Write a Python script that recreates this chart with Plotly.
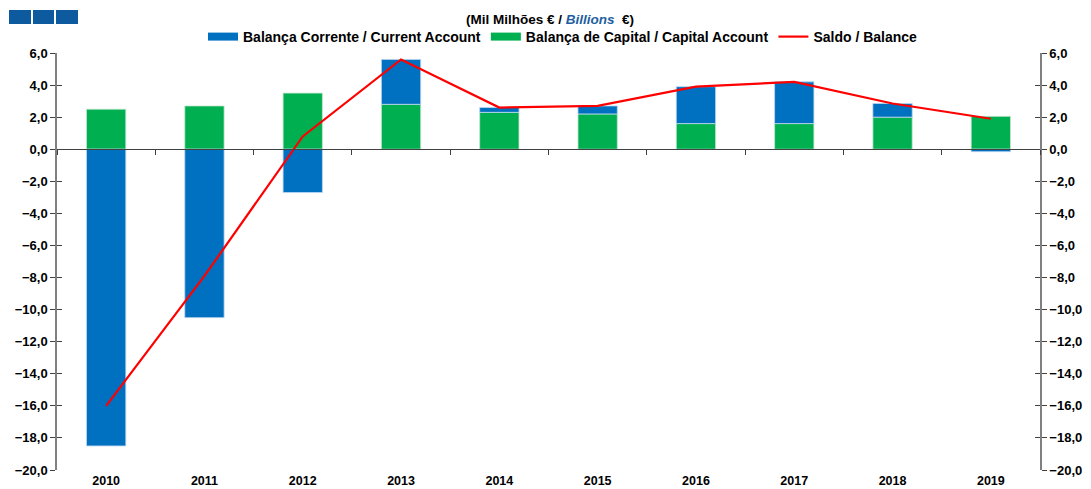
import plotly.graph_objects as go

years = ["2010", "2011", "2012", "2013", "2014", "2015", "2016", "2017", "2018", "2019"]
current_account = [-18.5, -10.5, -2.7, 2.8, 0.3, 0.5, 2.3, 2.6, 0.85, -0.15]
capital_account = [2.5, 2.7, 3.5, 2.8, 2.3, 2.2, 1.6, 1.6, 2.0, 2.05]
balance = [-16.0, -7.9, 0.8, 5.6, 2.6, 2.7, 3.9, 4.2, 2.85, 1.9]
y_ticks = [6, 4, 2, 0, -2, -4, -6, -8, -10, -12, -14, -16, -18, -20]

FONT = "Liberation Sans, Arial, sans-serif"
BLUE = "#0070C0"
GREEN = "#00B050"
RED = "#FF0000"
H = 489

fig = go.Figure()
fig.add_trace(go.Bar(
    x=years, y=capital_account, name="Balança de Capital / Capital Account",
    marker=dict(color=GREEN, line=dict(color="rgba(200,230,210,0.8)", width=1)),
    width=0.4, showlegend=False, xaxis="x", yaxis="y",
))
fig.add_trace(go.Bar(
    x=years, y=current_account, name="Balança Corrente / Current Account",
    marker=dict(color=BLUE, line=dict(color="rgba(190,215,240,0.8)", width=1)),
    width=0.4, showlegend=False, xaxis="x", yaxis="y",
))
# legend entries with wide rectangular swatches
fig.add_trace(go.Scatter(
    x=[None], y=[None], name="Balança Corrente / Current Account", mode="lines",
    line=dict(color=BLUE, width=8), legendrank=1, xaxis="x", yaxis="y",
))
fig.add_trace(go.Scatter(
    x=[None], y=[None], name="Balança de Capital / Capital Account", mode="lines",
    line=dict(color=GREEN, width=8), legendrank=2, xaxis="x", yaxis="y",
))
fig.add_trace(go.Scatter(
    x=years, y=balance, name="Saldo / Balance", mode="lines",
    line=dict(color=RED, width=2.2), legendrank=3, xaxis="x2", yaxis="y2",
))
# empty helper traces so the inner-tick axes are drawn
fig.add_trace(go.Scatter(x=[], y=[], xaxis="x", yaxis="y3", showlegend=False, hoverinfo="skip"))
fig.add_trace(go.Scatter(x=[], y=[], xaxis="x", yaxis="y4", showlegend=False, hoverinfo="skip"))

zero_pos = 20 / 26
tick_font = dict(family=FONT, size=13, color="black", weight="bold")

def y_common(**kw):
    d = dict(range=[-20, 6], tickvals=y_ticks, tickformat=".1f",
             showgrid=False, zeroline=False, automargin=False,
             tickcolor="#404040", tickfont=tick_font)
    d.update(kw)
    return d

fig.update_layout(
    width=1091, height=H,
    paper_bgcolor="white", plot_bgcolor="white",
    separators=",.",
    barmode="relative",
    margin=dict(l=57, r=51, t=53, b=19, autoexpand=False),
    font=dict(family=FONT, size=13, color="black"),
    title=dict(
        text="<b>(Mil Milhões € / <i><span style='color:#1F5FA0'>Billions</span></i>  €)</b>",
        x=550 / 1091, xanchor="center", xref="container",
        y=1 - 19 / H, yanchor="middle", yref="container",
        font=dict(family=FONT, size=13.5, color="black"),
    ),
    legend=dict(
        orientation="h", x=563 / 1091, xanchor="center", xref="container",
        y=1 - 37 / H, yanchor="middle", yref="container",
        font=dict(family=FONT, size=14, color="black", weight="bold"),
        bgcolor="rgba(0,0,0,0)", itemwidth=30, tracegroupgap=0,
    ),
    xaxis=dict(
        type="category", categoryorder="array", categoryarray=years,
        range=[-0.5, 9.5], showline=False, ticks="", showgrid=False,
        zeroline=False, automargin=False, ticklabelstandoff=1,
        tickfont=dict(family=FONT, size=12.5, color="black", weight="bold"),
    ),
    xaxis2=dict(
        type="category", categoryorder="array", categoryarray=years,
        range=[-0.5, 9.5], overlaying="x", anchor="free", position=zero_pos,
        showline=True, linecolor="#404040", linewidth=1,
        ticks="outside", ticklen=5, tickcolor="#404040", tickson="boundaries",
        showticklabels=False, showgrid=False, zeroline=False, automargin=False,
    ),
    yaxis=y_common(showline=True, linecolor="#808080", linewidth=1.5,
                   ticks="outside", ticklen=5),
    yaxis2=y_common(overlaying="y", side="right", anchor="x",
                    showline=True, linecolor="#808080", linewidth=1.5,
                    ticks="outside", ticklen=5),
    yaxis3=y_common(overlaying="y", side="left", anchor="x",
                    showline=False, ticks="inside", ticklen=5,
                    showticklabels=False),
    yaxis4=y_common(overlaying="y", side="right", anchor="x",
                    showline=False, ticks="inside", ticklen=5,
                    showticklabels=False),
    shapes=[
        dict(type="rect", xref="paper", yref="paper",
             x0=(9 - 57) / 983, x1=(31 - 57) / 983,
             y0=(470 - 24) / 417, y1=(470 - 10) / 417,
             fillcolor="#0D5A9E", line=dict(width=0)),
        dict(type="rect", xref="paper", yref="paper",
             x0=(33 - 57) / 983, x1=(54 - 57) / 983,
             y0=(470 - 24) / 417, y1=(470 - 10) / 417,
             fillcolor="#0D5A9E", line=dict(width=0)),
        dict(type="rect", xref="paper", yref="paper",
             x0=(56 - 57) / 983, x1=(78 - 57) / 983,
             y0=(470 - 24) / 417, y1=(470 - 10) / 417,
             fillcolor="#0D5A9E", line=dict(width=0)),
    ],
)

fig.write_html("out.html", config={"displayModeBar": False},
               post_script="document.body.style.margin='0';")
